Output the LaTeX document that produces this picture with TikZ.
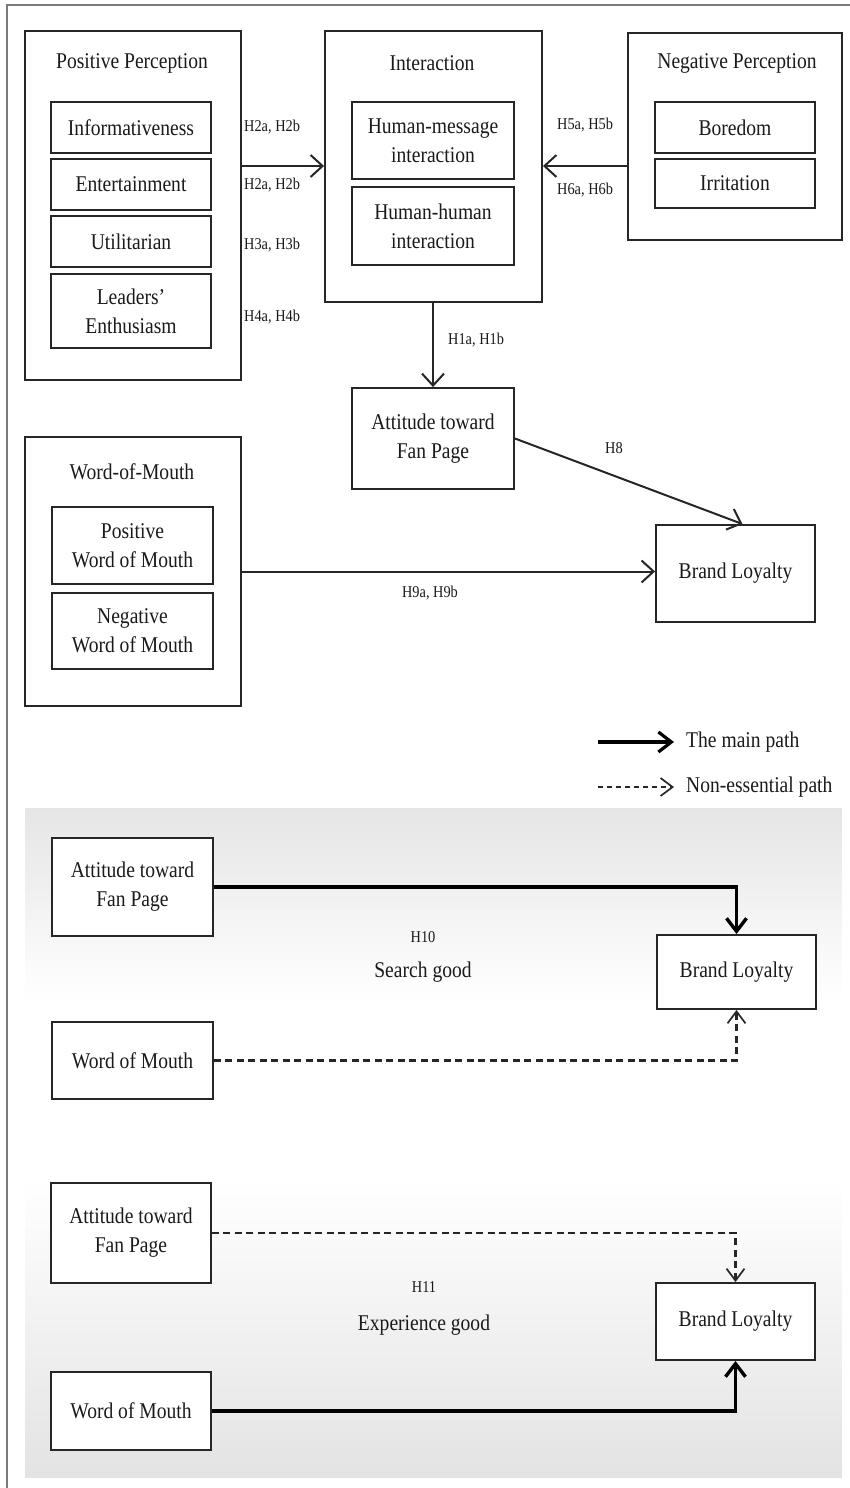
\documentclass[tikz,border=0pt]{standalone}
\usepackage{fontspec}
\setmainfont[FakeStretch=0.87]{Liberation Serif}
\usetikzlibrary{arrows.meta}
\definecolor{boxc}{HTML}{262626}
\definecolor{txtc}{HTML}{1A1A1A}
\definecolor{framec}{HTML}{7A7A7A}
\newcommand\dgmMain{\fontsize{22.5}{29}\selectfont}
\newcommand\dgmLab{\fontsize{16.5}{20}\selectfont}
\begin{document}
\begin{tikzpicture}[x=1pt,y=-1pt,
  wh/.style 2 args={minimum width=#1pt, minimum height=#2pt},
  bx/.style={draw=boxc, line width=1.9pt, fill=white, inner sep=0pt, align=center, font=\dgmMain, text=txtc},
  grp/.style={draw=boxc, line width=1.9pt, inner sep=0pt},
  ttl/.style={font=\dgmMain, text=txtc, inner sep=0pt},
  lab/.style={font=\dgmLab, text=txtc, inner sep=0pt},
  arr/.style={draw=boxc, line width=2pt, -{Straight Barb[length=12pt,width=22pt]}},
  mainarr/.style={draw=black, line width=3.4pt, -{Straight Barb[length=13pt,width=20pt]}},
  dasharr/.style={draw=boxc, line width=2.1pt, dash pattern=on 7pt off 4.5pt, -{Straight Barb[length=12pt,width=18pt,line width=1.7pt]}}
]
\useasboundingbox (0,0) rectangle (849,1488);
\fill[white] (0,0) rectangle (849,1488);
% outer frame
\draw[framec, line width=1.6pt] (7,1490) -- (7,5) -- (851,5);
% shaded lower panel (gradient drawn as thin strips)
\foreach \yy in {808,811,...,1474}{
  \pgfmathsetmacro{\gl}{max(0, 10*(1000-\yy)/192, 11*(\yy-1180)/297)}
  \fill[black!\gl] (25,\yy) rectangle (842,\yy+3.6);
}

% ---------- Positive perception ----------
\node[grp, wh={216}{349}] (pos) at (133,205.5) {};
\node[ttl] (post) at (132,63) {Positive Perception};
\node[bx, wh={160}{51}] (info) at (131,127.5) {Informativeness};
\node[bx, wh={160}{51}] (ent) at (131,184.5) {Entertainment};
\node[bx, wh={160}{51}] (util) at (131,241.5) {Utilitarian};
\node[bx, wh={160}{74}] (lead) at (131,311) {Leaders’\\Enthusiasm};

% ---------- Interaction ----------
\node[grp, wh={217}{271}] (inter) at (433.5,166.5) {};
\node[ttl] (intert) at (432,63) {Interaction};
\node[bx, wh={162}{77}] (hm) at (433,140.5) {Human-message\\interaction};
\node[bx, wh={162}{78}] (hh) at (433,226) {Human-human\\interaction};

% ---------- Negative perception ----------
\node[grp, wh={214}{207}] (neg) at (735,136.5) {};
\node[ttl] (negt) at (737,63) {Negative Perception};
\node[bx, wh={160}{51}] (bore) at (735,127.5) {Boredom};
\node[bx, wh={160}{49}] (irr) at (735,183.5) {Irritation};

% ---------- Attitude / WoM / Brand loyalty ----------
\node[bx, wh={162}{101}] (att) at (433,438.5) {Attitude toward\\Fan Page};
\node[grp, wh={216}{269}] (wom) at (133,571.5) {};
\node[ttl] (womt) at (132,472) {Word-of-Mouth};
\node[bx, wh={161}{77}] (pwom) at (132.5,545.5) {Positive\\Word of Mouth};
\node[bx, wh={161}{76}] (nwom) at (132.5,631) {Negative\\Word of Mouth};
\node[bx, wh={159}{97}] (bl) at (735.5,573.5) {Brand Loyalty};

% connectors (top model)
\coordinate (ya) at (0,166);
\draw[arr] (pos.east |- ya) -- (inter.west |- ya);
\draw[arr] (neg.west |- ya) -- (inter.east |- ya);
\draw[arr] (inter.south -| att.north) -- (att.north);
\draw[arr] (att.east) -- ([xshift=7pt]bl.north);
\draw[arr] (wom.east) -- (wom.east -| bl.west);

% hypothesis labels
\node[lab, anchor=west] (l1) at (244,127) {H2a, H2b};
\node[lab, anchor=west] (l2) at (244,185) {H2a, H2b};
\node[lab, anchor=west] (l3) at (244,245) {H3a, H3b};
\node[lab, anchor=west] (l4) at (244,317) {H4a, H4b};
\node[lab, anchor=west] (l5) at (557,125) {H5a, H5b};
\node[lab, anchor=west] (l6) at (557,190) {H6a, H6b};
\node[lab, anchor=west] (l7) at (448,340) {H1a, H1b};
\node[lab] (l8) at (614,448) {H8};
\node[lab] (l9) at (430,593) {H9a, H9b};

% legend
\coordinate (lg1a) at (598,742);
\coordinate (lg1b) at (674,742);
\coordinate (lg2a) at (598,787);
\coordinate (lg2b) at (674,787);
\draw[mainarr, line width=3.2pt] (lg1a) -- (lg1b);
\draw[dasharr, line width=1.5pt, dash pattern=on 5pt off 4pt] (lg2a) -- (lg2b);
\node[ttl, anchor=west] (lgt1) at (686,742) {The main path};
\node[ttl, anchor=west] (lgt2) at (686,787) {Non-essential path};

% ---------- Panel: search good ----------
\node[bx, wh={161}{98}] (att2) at (132.5,887) {Attitude toward\\Fan Page};
\node[bx, wh={159}{74}] (bl2) at (736.5,972) {Brand Loyalty};
\node[bx, wh={161}{77}] (wom2) at (132.5,1060.5) {Word of Mouth};
\draw[mainarr] (att2.east) -| (bl2.north);
\draw[dasharr] (wom2.east) -| (bl2.south);
\node[lab] (h10) at (423,937) {H10};
\node[ttl] (sg) at (423,972) {Search good};

% ---------- Panel: experience good ----------
\node[bx, wh={160}{100}] (att3) at (131,1233) {Attitude toward\\Fan Page};
\node[bx, wh={159}{77}] (bl3) at (735.5,1321.5) {Brand Loyalty};
\node[bx, wh={160}{78}] (wom3) at (131,1411) {Word of Mouth};
\draw[dasharr] (att3.east) -| (bl3.north);
\draw[mainarr] (wom3.east) -| (bl3.south);
\node[lab] (h11) at (424,1287) {H11};
\node[ttl] (eg) at (424,1325) {Experience good};
\end{tikzpicture}
\end{document}
